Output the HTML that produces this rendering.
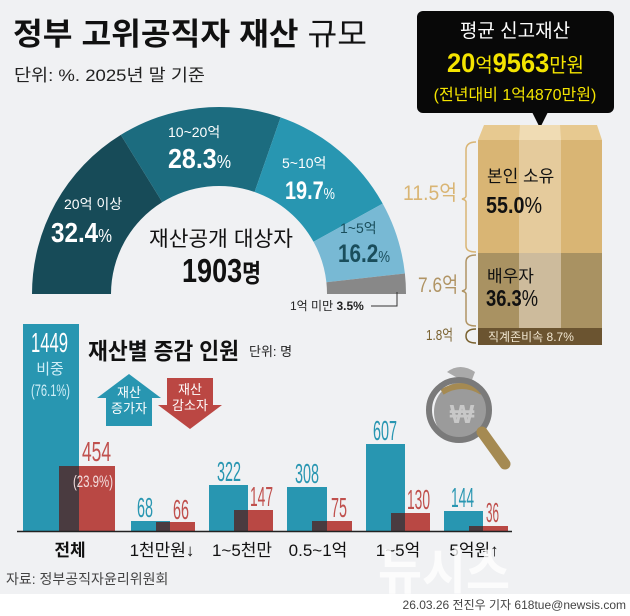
<!DOCTYPE html>
<html><head><meta charset="utf-8"><style>
body{margin:0;background:#f0f1f3}
svg{display:block}
text{font-family:"Liberation Sans","Noto Sans CJK KR",sans-serif}
</style></head><body>
<svg width="630" height="616" viewBox="0 0 630 616" xmlns="http://www.w3.org/2000/svg">
<rect width="630" height="616" fill="#f0f1f3"/>
<rect y="594" width="630" height="22" fill="#ffffff"/>
<text x="13" y="45" font-size="31" font-weight="bold" fill="#111" textLength="354" lengthAdjust="spacingAndGlyphs">정부 고위공직자 재산 <tspan font-weight="normal">규모</tspan></text>
<text x="14" y="81" font-size="17" fill="#222" textLength="191" lengthAdjust="spacingAndGlyphs">단위: %. 2025년 말 기준</text>
<g transform="translate(219,294)">
<path d="M-187,0 A187,187 0 0 1 -98.2,-159.1 L-56.7,-91.9 A108,108 0 0 0 -108,0Z" fill="#174b58"/>
<path d="M-98.2,-159.1 A187,187 0 0 1 61.6,-176.6 L35.6,-102 A108,108 0 0 0 -56.7,-91.9Z" fill="#1c6c7f"/>
<path d="M61.6,-176.6 A187,187 0 0 1 163.7,-90.4 L94.5,-52.2 A108,108 0 0 0 35.6,-102Z" fill="#2896b1"/>
<path d="M163.7,-90.4 A187,187 0 0 1 185.9,-20.5 L107.4,-11.8 A108,108 0 0 0 94.5,-52.2Z" fill="#78b9d4"/>
<path d="M185.9,-20.5 A187,187 0 0 1 187,0 L108,0 A108,108 0 0 0 107.4,-11.8Z" fill="#888"/>
</g>
<text x="64" y="209" font-size="14" fill="#fff">20억 이상</text>
<text x="51" y="242" font-size="28" font-weight="bold" fill="#fff" textLength="61" lengthAdjust="spacingAndGlyphs">32.4<tspan font-size="18" font-weight="normal">%</tspan></text>
<text x="168" y="137" font-size="14" fill="#fff">10~20억</text>
<text x="168" y="168" font-size="28" font-weight="bold" fill="#fff" textLength="63" lengthAdjust="spacingAndGlyphs">28.3<tspan font-size="18" font-weight="normal">%</tspan></text>
<text x="282" y="168" font-size="14" fill="#fff">5~10억</text>
<text x="285" y="199" font-size="25" font-weight="bold" fill="#fff" textLength="50" lengthAdjust="spacingAndGlyphs">19.7<tspan font-size="16" font-weight="normal">%</tspan></text>
<text x="340" y="233" font-size="14" fill="#1a4e5c">1~5억</text>
<text x="338" y="262" font-size="25" font-weight="bold" fill="#1a4e5c" textLength="52" lengthAdjust="spacingAndGlyphs">16.2<tspan font-size="16" font-weight="normal">%</tspan></text>
<text x="149" y="246" font-size="21" fill="#111" textLength="144" lengthAdjust="spacingAndGlyphs">재산공개 대상자</text>
<text x="182" y="282" font-size="33" font-weight="bold" fill="#111" textLength="79" lengthAdjust="spacingAndGlyphs">1903<tspan font-size="25">명</tspan></text>
<text x="290" y="310" font-size="12" fill="#222">1억 미만 <tspan font-weight="bold">3.5%</tspan></text>
<path d="M371,306 H397 V292" stroke="#333" fill="none" stroke-width="1"/>
<rect x="417" y="11" width="197" height="102" rx="6" fill="#080808"/>
<path d="M532,112 L548,112 L540,128Z" fill="#080808"/>
<text x="515" y="37" font-size="19" fill="#fff" text-anchor="middle">평균 신고재산</text>
<text x="447" y="72" font-size="27" font-weight="bold" fill="#f4e400" textLength="137" lengthAdjust="spacingAndGlyphs">20<tspan font-size="20" font-weight="normal">억</tspan>9563<tspan font-size="20" font-weight="normal">만원</tspan></text>
<text x="515" y="100" font-size="16" fill="#f4e400" text-anchor="middle">(전년대비 1억4870만원)</text>
<path d="M484,125 H597 L602,140 H478Z" fill="#e7c990"/>
<path d="M520,125 H560 L561,140 H519Z" fill="#f0dcb4"/>
<rect x="478" y="140" width="124" height="113" fill="#d9b574"/>
<rect x="519" y="140" width="42" height="113" fill="#e5cb9c"/>
<rect x="478" y="253" width="124" height="75" fill="#a99262"/>
<rect x="519" y="253" width="42" height="75" fill="#cdbb9c"/>
<rect x="478" y="328" width="124" height="17" fill="#6b5430"/>
<text x="487" y="182" font-size="17" fill="#111">본인 소유</text>
<text x="486" y="213" font-size="23" font-weight="bold" fill="#111" textLength="56" lengthAdjust="spacingAndGlyphs">55.0<tspan font-weight="normal">%</tspan></text>
<text x="487" y="282" font-size="17" fill="#111">배우자</text>
<text x="486" y="306" font-size="23" font-weight="bold" fill="#111" textLength="52" lengthAdjust="spacingAndGlyphs">36.3<tspan font-weight="normal">%</tspan></text>
<text x="488" y="341" font-size="12" fill="#f0e6d0">직계존비속 8.7%</text>
<path d="M476,142 Q466,142 466,150 V196 Q466,198 462,199 Q466,200 466,202 V246 Q466,252 476,252" stroke="#d9b574" fill="none" stroke-width="1.5"/>
<path d="M476,255 Q466,255 466,262 V288 Q466,290 462,291 Q466,292 466,294 V320 Q466,326 476,326" stroke="#b09464" fill="none" stroke-width="1.5"/>
<path d="M476,329 Q466,329 466,336 Q466,343 476,343" stroke="#7a6230" fill="none" stroke-width="1.5"/>
<text x="403" y="200" font-size="21" fill="#d9b574" textLength="54" lengthAdjust="spacingAndGlyphs">11.5억</text>
<text x="418" y="292" font-size="21" fill="#b09464" textLength="40" lengthAdjust="spacingAndGlyphs">7.6억</text>
<text x="426" y="340" font-size="15" fill="#7a6230" textLength="27" lengthAdjust="spacingAndGlyphs">1.8억</text>
<path d="M447,372 Q460,362 475,372 L470,385 Z" fill="#aaa"/>
<ellipse cx="462" cy="412" rx="28" ry="30" fill="#9b9b9b"/>
<path d="M442,392 Q462,380 482,392" stroke="#a58a52" stroke-width="6" fill="none"/>
<text x="462" y="423" font-size="26" font-weight="bold" fill="#c8c8c8" text-anchor="middle">₩</text>
<circle cx="459" cy="410" r="30" fill="none" stroke="#7a7a7a" stroke-width="6"/>
<path d="M482,432 L505,464" stroke="#a58a52" stroke-width="11" stroke-linecap="round"/>
<text x="88" y="359" font-size="23" font-weight="bold" fill="#111" textLength="151" lengthAdjust="spacingAndGlyphs">재산별 증감 인원</text>
<text x="249" y="356" font-size="13" fill="#222">단위: 명</text>
<path d="M97,398 L129,374 L161,398 H152 V426 H106 V398Z" fill="#2896b1"/>
<text x="129" y="397" font-size="13" fill="#fff" text-anchor="middle">재산</text>
<text x="129" y="413" font-size="13" fill="#fff" text-anchor="middle">증가자</text>
<path d="M167,378 H213 V405 H222 L190,429 L158,405 H167Z" fill="#bb4743"/>
<text x="190" y="394" font-size="13" fill="#fff" text-anchor="middle">재산</text>
<text x="190" y="410" font-size="13" fill="#fff" text-anchor="middle">감소자</text>
<rect x="23" y="324" width="56" height="207" fill="#2896b1"/>
<rect x="59" y="466" width="56" height="65" fill="#b94844"/>
<rect x="59" y="466" width="20" height="65" fill="#4a3b40"/>
<rect x="131" y="521" width="39" height="10" fill="#2896b1"/>
<rect x="156" y="522" width="39" height="9" fill="#b94844"/>
<rect x="156" y="522" width="14" height="9" fill="#4a3b40"/>
<rect x="209" y="485" width="39" height="46" fill="#2896b1"/>
<rect x="234" y="510" width="39" height="21" fill="#b94844"/>
<rect x="234" y="510" width="14" height="21" fill="#4a3b40"/>
<rect x="287" y="487" width="40" height="44" fill="#2896b1"/>
<rect x="312" y="521" width="40" height="10" fill="#b94844"/>
<rect x="312" y="521" width="15" height="10" fill="#4a3b40"/>
<rect x="366" y="444" width="39" height="87" fill="#2896b1"/>
<rect x="391" y="513" width="39" height="18" fill="#b94844"/>
<rect x="391" y="513" width="14" height="18" fill="#4a3b40"/>
<rect x="444" y="511" width="39" height="20" fill="#2896b1"/>
<rect x="469" y="526" width="39" height="5" fill="#b94844"/>
<rect x="469" y="526" width="14" height="5" fill="#4a3b40"/>
<line x1="17" y1="531.5" x2="512" y2="531.5" stroke="#222" stroke-width="1.5"/>
<g font-size="28">
<text x="31" y="352" fill="#fff" textLength="37" lengthAdjust="spacingAndGlyphs">1449</text>
<text x="50" y="374" font-size="15" fill="#cfeef7" text-anchor="middle">비중</text>
<text x="31" y="396" font-size="17" fill="#cfeef7" textLength="39" lengthAdjust="spacingAndGlyphs">(76.1%)</text>
<text x="82" y="461" fill="#c0504d" textLength="29" lengthAdjust="spacingAndGlyphs">454</text>
<text x="73" y="487" font-size="17" fill="#f3dede" textLength="40" lengthAdjust="spacingAndGlyphs">(23.9%)</text>
<text x="137" y="517" fill="#2896b1" textLength="16" lengthAdjust="spacingAndGlyphs">68</text>
<text x="173" y="519" fill="#c0504d" textLength="16" lengthAdjust="spacingAndGlyphs">66</text>
<text x="217" y="481" fill="#2896b1" textLength="24" lengthAdjust="spacingAndGlyphs">322</text>
<text x="250" y="506" fill="#c0504d" textLength="23" lengthAdjust="spacingAndGlyphs">147</text>
<text x="295" y="483" fill="#2896b1" textLength="24" lengthAdjust="spacingAndGlyphs">308</text>
<text x="331" y="517" fill="#c0504d" textLength="16" lengthAdjust="spacingAndGlyphs">75</text>
<text x="373" y="440" fill="#2896b1" textLength="24" lengthAdjust="spacingAndGlyphs">607</text>
<text x="407" y="509" fill="#c0504d" textLength="23" lengthAdjust="spacingAndGlyphs">130</text>
<text x="451" y="507" fill="#2896b1" textLength="23" lengthAdjust="spacingAndGlyphs">144</text>
<text x="486" y="522" fill="#c0504d" textLength="13" lengthAdjust="spacingAndGlyphs">36</text>
</g>
<g font-size="17" fill="#111" text-anchor="middle">
<text x="70" y="556" font-weight="bold">전체</text>
<text x="162" y="556">1천만원↓</text>
<text x="242" y="556">1~5천만</text>
<text x="318" y="556">0.5~1억</text>
<text x="398" y="556">1~5억</text>
<text x="474" y="556">5억원↑</text>
</g>
<text x="6" y="584" font-size="14" fill="#444">자료: 정부공직자윤리위원회</text>
<text x="378" y="589" font-size="50" font-weight="bold" fill="#ffffff" opacity="0.8" textLength="132" lengthAdjust="spacingAndGlyphs">뉴시스</text>
<text x="626" y="609" font-size="12" fill="#444" text-anchor="end">26.03.26 전진우 기자 618tue@newsis.com</text>
</svg>
</body></html>
